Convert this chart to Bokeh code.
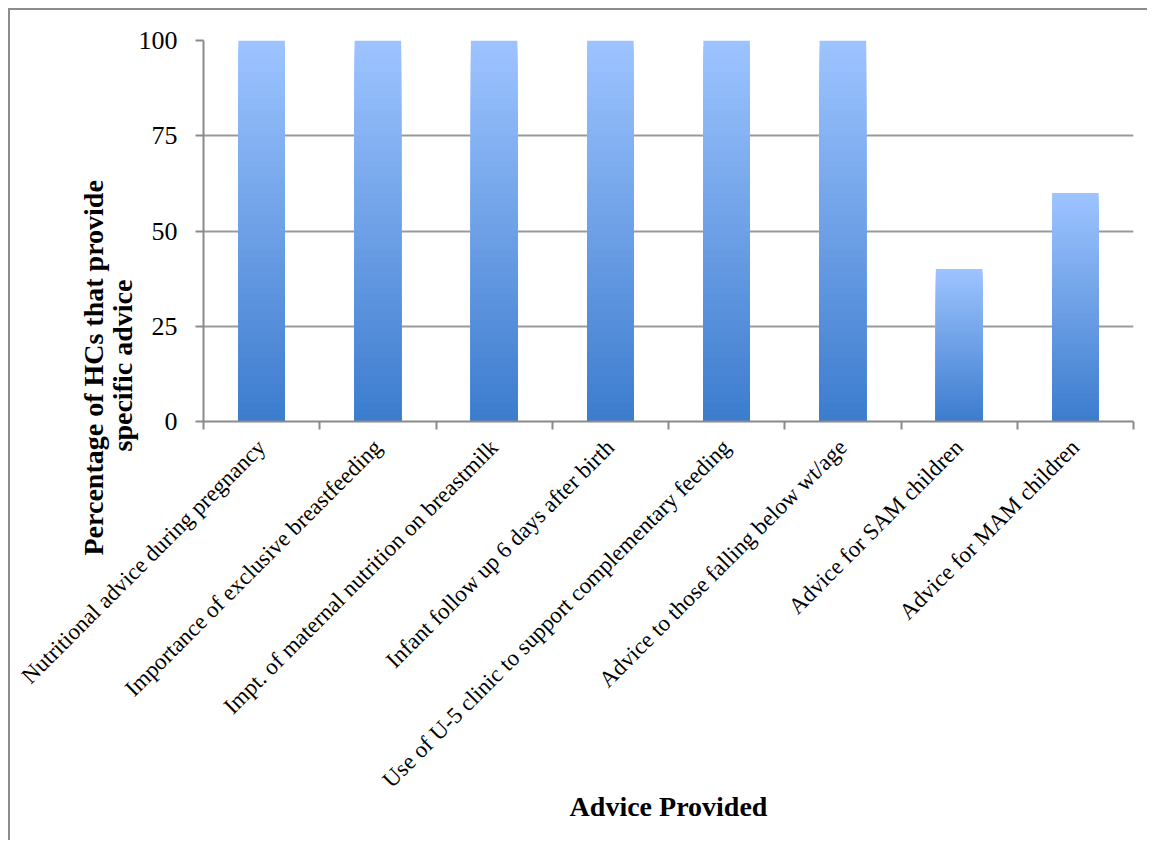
import math
from bokeh.plotting import figure
from bokeh.models import Range1d, LinearAxis, FixedTicker, Grid, Title
from bokeh.embed import file_html
from bokeh.resources import INLINE

categories = [
    "Nutritional advice during pregnancy",
    "Importance of exclusive breastfeeding",
    "Impt. of maternal nutrition on breastmilk",
    "Infant follow up 6 days after birth",
    "Use of U-5 clinic to support complementary feeding",
    "Advice to those falling below wt/age",
    "Advice for SAM children",
    "Advice for MAM children",
]
values = [100, 100, 100, 100, 100, 100, 40, 60]
y_ticks = [0, 25, 50, 75, 100]
y_title_1 = "Percentage of HCs that provide"
y_title_2 = "specific advice"
x_title = "Advice Provided"

FONT = "Liberation Serif"
TOP = (158, 196, 255)
BOT = (60, 124, 206)
N = 60

p = figure(width=1139, height=832, output_backend="svg", toolbar_location=None,
           x_range=Range1d(0, len(categories)), y_range=Range1d(0, 100),
           x_axis_type=None, y_axis_type=None,
           min_border_left=193, min_border_top=30, min_border_right=16,
           min_border_bottom=421)
p.outline_line_color = None
p.styles = {"margin-top": "8px", "margin-left": "8px",
            "border-top": "2px solid #8c8c8c", "border-left": "2px solid #8c8c8c"}

# y axis
yax = LinearAxis(ticker=FixedTicker(ticks=y_ticks))
yax.minor_tick_line_color = None
yax.major_tick_in = 0
yax.major_tick_out = 8
yax.axis_line_color = "#8a8a8a"
yax.axis_line_width = 2
yax.major_tick_line_color = "#8a8a8a"
yax.major_tick_line_width = 2
yax.major_label_text_font = FONT
yax.major_label_text_font_size = "26px"
yax.major_label_text_color = "#000000"
yax.major_label_standoff = 18
p.add_layout(yax, "left")

# x axis: ticks at category boundaries
xax = LinearAxis(ticker=FixedTicker(ticks=list(range(len(categories) + 1))))
xax.minor_tick_line_color = None
xax.major_tick_in = 0
xax.major_tick_out = 8
xax.axis_line_color = "#8a8a8a"
xax.axis_line_width = 2
xax.major_tick_line_color = "#8a8a8a"
xax.major_tick_line_width = 2
xax.major_label_overrides = {i: "" for i in range(len(categories) + 1)}
xax.major_label_text_font_size = "1px"
xax.major_label_standoff = 0
p.add_layout(xax, "below")

# category labels at centers
centers = [i + 0.5 for i in range(len(categories))]
lax = LinearAxis(ticker=FixedTicker(ticks=centers))
lax.axis_line_color = None
lax.major_tick_line_color = None
lax.minor_tick_line_color = None
lax.major_label_overrides = {c: cat for c, cat in zip(centers, categories)}
lax.major_label_orientation = math.pi / 4
lax.major_label_text_font = FONT
lax.major_label_text_font_size = "23px"
lax.major_label_text_color = "#000000"
lax.major_label_standoff = 8
lax.axis_label = x_title
lax.axis_label_text_font = FONT
lax.axis_label_text_font_style = "bold"
lax.axis_label_text_font_size = "28px"
lax.axis_label_text_color = "#000000"
lax.axis_label_standoff = -13
p.add_layout(lax, "below")

p.add_layout(Grid(dimension=1, ticker=yax.ticker,
                  grid_line_color="#999999", grid_line_width=2))

# bars with vertical gradient (overlapping layers, tallest first)
def mix(t):
    r = [round(BOT[j] + (TOP[j] - BOT[j]) * t) for j in range(3)]
    return "#%02x%02x%02x" % tuple(r)

for k in range(N, 0, -1):
    col = mix((k - 0.5) / N)
    p.vbar(x=centers, width=0.4, bottom=0,
           top=[v * k / N for v in values],
           fill_color=col, line_color=None)

# y-axis title (two lines, each placed from the bottom)
for txt, off in ((y_title_2, -30), (y_title_1, -134)):
    p.add_layout(Title(text=txt, align="left", offset=off, standoff=-4,
                       text_font=FONT, text_font_style="bold",
                       text_font_size="28px", text_color="#000000"), "left")

open("out.html", "w").write(file_html(p, INLINE))
